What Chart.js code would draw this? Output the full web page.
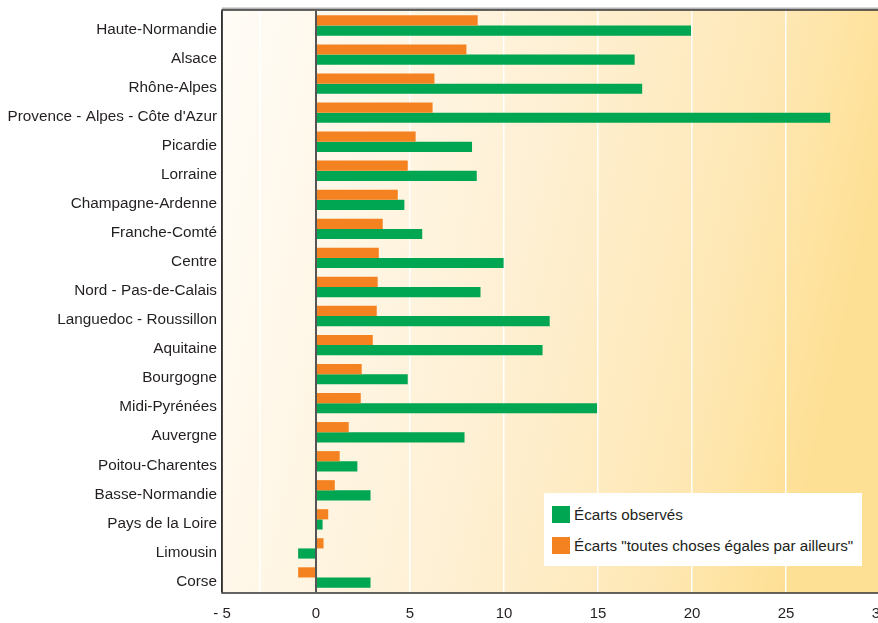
<!DOCTYPE html>
<html>
<head>
<meta charset="utf-8">
<script src="https://cdn.jsdelivr.net/npm/chart.js@4"></script>
<style>
  html, body { margin: 0; padding: 0; background: #ffffff; overflow: hidden; width: 878px; height: 623px; }
  #wrap { position: relative; width: 892px; height: 623px; }
  #legend { position: absolute; left: 544px; top: 493px; width: 318px; height: 73px; background: #ffffff;
    font-family: "Liberation Sans", Arial, sans-serif; font-size: 15.2px; color: #231f20; }
  .item { position: absolute; left: 8px; height: 18px; display: flex; align-items: center; white-space: nowrap; }
  .sw { width: 18px; height: 17px; margin-right: 4px; }
</style>
</head>
<body>
<div id="wrap">
  <canvas id="c" width="892" height="623"></canvas>
  <div id="legend">
    <div class="item" style="top:12px"><span class="sw" style="background:#00a651"></span><span>Écarts observés</span></div>
    <div class="item" style="top:43px"><span class="sw" style="background:#f58220"></span><span>Écarts "toutes choses égales par ailleurs"</span></div>
  </div>
</div>
<script>
const regions = [
  "Haute-Normandie", "Alsace", "Rhône-Alpes", "Provence - Alpes - Côte d'Azur", "Picardie",
  "Lorraine", "Champagne-Ardenne", "Franche-Comté", "Centre", "Nord - Pas-de-Calais",
  "Languedoc - Roussillon", "Aquitaine", "Bourgogne", "Midi-Pyrénées", "Auvergne",
  "Poitou-Charentes", "Basse-Normandie", "Pays de la Loire", "Limousin", "Corse"
];
const ecartsObserves = [19.95, 16.95, 17.35, 27.35, 8.3, 8.55, 4.7, 5.65, 9.98, 8.75,
  12.43, 12.05, 4.88, 14.95, 7.9, 2.2, 2.9, 0.35, -0.95, 2.9];
const ecartsTCEPA = [8.6, 8.0, 6.3, 6.2, 5.3, 4.88, 4.35, 3.55, 3.34, 3.28,
  3.23, 3.02, 2.43, 2.38, 1.74, 1.26, 1.0, 0.65, 0.4, -0.95];
const xMin = -5, xMax = 30, xStep = 5;
const extraGridValue = -3;

const FONT = '"Liberation Sans", Arial, sans-serif';

const bgPlugin = {
  id: 'bg',
  beforeDraw(chart) {
    const { ctx, chartArea: a } = chart;
    const g = ctx.createLinearGradient(a.left, a.top, a.right, a.top + 150);
    g.addColorStop(0, '#fffcf7');
    g.addColorStop(0.5, '#fef0d4');
    g.addColorStop(0.8, '#fee8b6');
    g.addColorStop(1, '#fee095');
    ctx.save();
    ctx.fillStyle = g;
    ctx.fillRect(a.left, a.top - 1, a.right - a.left, a.bottom - a.top + 2);
    ctx.restore();
  },
  afterDraw(chart) {
    const { ctx, chartArea: a } = chart;
    const top = a.top - 1, bottom = a.bottom + 1;
    ctx.save();
    ctx.strokeStyle = '#b5b5b5';
    ctx.lineWidth = 2;
    ctx.beginPath(); ctx.moveTo(a.left, top - 1.5); ctx.lineTo(chart.width, top - 1.5); ctx.stroke();
    ctx.strokeStyle = '#333333';
    ctx.lineWidth = 1.5;
    ctx.beginPath();
    ctx.moveTo(chart.width, top); ctx.lineTo(a.left, top); ctx.lineTo(a.left, bottom); ctx.lineTo(chart.width, bottom);
    ctx.stroke();
    ctx.restore();
  }
};

new Chart(document.getElementById('c'), {
  type: 'bar',
  data: {
    labels: regions,
    datasets: [
      { label: 'Écarts "toutes choses égales par ailleurs"', data: ecartsTCEPA, backgroundColor: '#f58220' },
      { label: 'Écarts observés', data: ecartsObserves, backgroundColor: '#00a651' }
    ]
  },
  options: {
    indexAxis: 'y',
    responsive: false,
    animation: false,
    categoryPercentage: 0.7,
    barPercentage: 1.0,
    layout: { padding: { top: 11, left: 0, right: 12, bottom: 0 } },
    plugins: { legend: { display: false }, tooltip: { enabled: false } },
    scales: {
      x: {
        min: xMin, max: xMax,
        afterFit(s) { s.height = 31; s.paddingLeft = 0; s.paddingRight = 0; },
        afterBuildTicks(s) {
          const t = [];
          for (let v = xMin; v <= xMax; v += xStep) t.push({ value: v });
          t.splice(1, 0, { value: extraGridValue });
          s.ticks = t;
        },
        ticks: {
          padding: 13,
          autoSkip: false,
          maxRotation: 0,
          color: '#231f20',
          font: { family: FONT, size: 15 },
          callback(v) { return v === extraGridValue ? '' : (v < 0 ? '- ' + (-v) : String(v)); }
        },
        grid: {
          drawTicks: false,
          color(ctx) {
            const v = ctx.tick && ctx.tick.value;
            if (v === 0) return '#555555';
            if (v === xMin) return '#333333';
            return 'rgba(255,255,255,0.95)';
          },
          lineWidth(ctx) {
            const v = ctx.tick && ctx.tick.value;
            return v === 0 ? 2 : 1.5;
          }
        },
        border: { display: false }
      },
      y: {
        afterFit(s) { s.width = 222; s.paddingTop = 0; s.paddingBottom = 0; },
        ticks: {
          padding: 5,
          labelOffset: 4,
          autoSkip: false,
          color: '#231f20',
          font: { family: FONT, size: 15.3 }
        },
        grid: { display: false, drawTicks: false },
        border: { display: false }
      }
    }
  },
  plugins: [bgPlugin]
});
</script>
</body>
</html>
